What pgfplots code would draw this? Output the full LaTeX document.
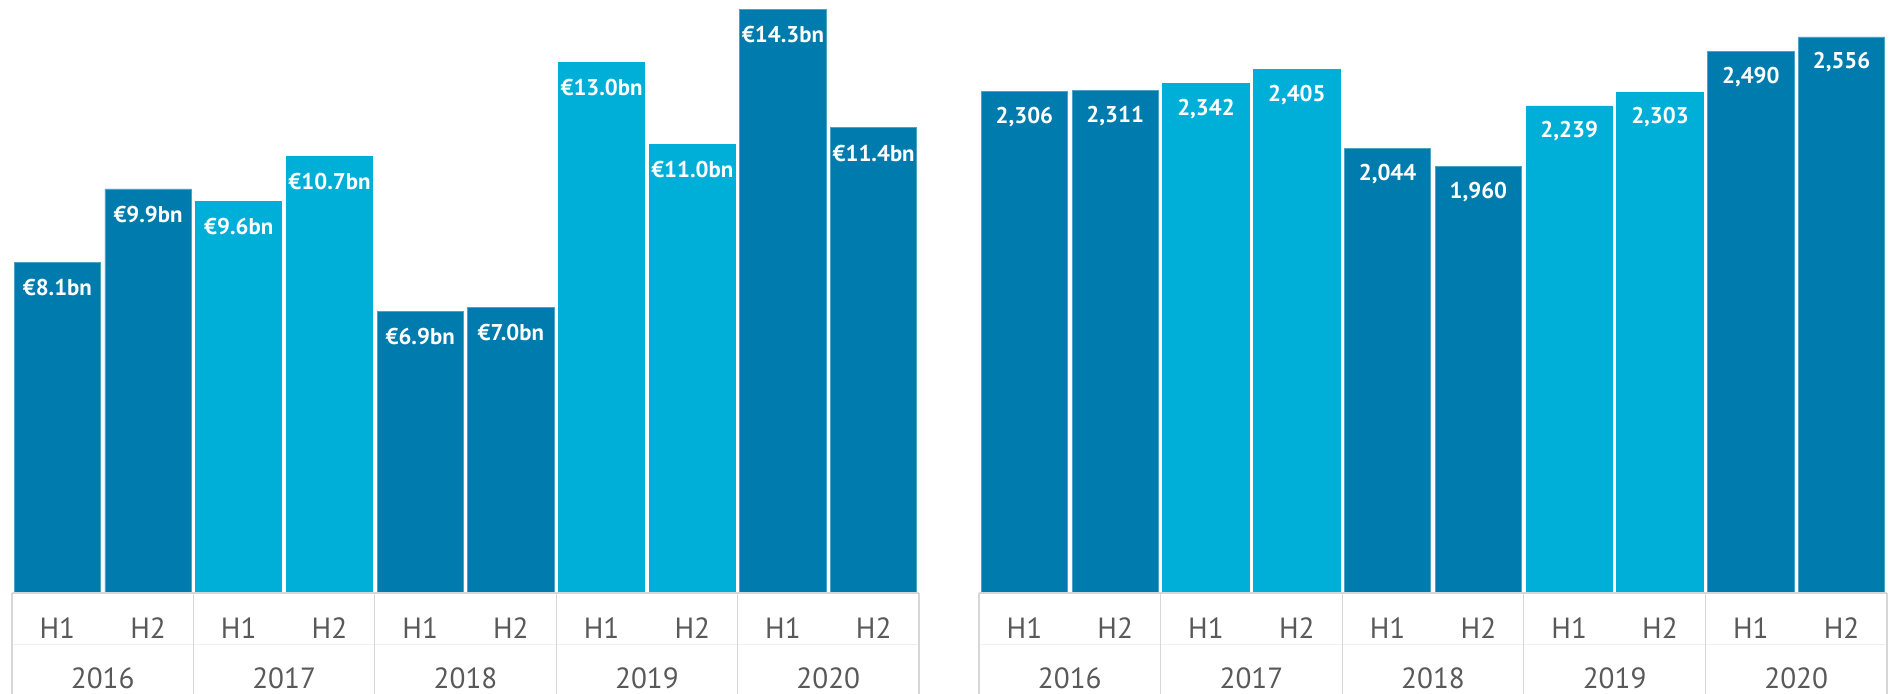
\documentclass[border=0pt]{standalone}
\usepackage{fontspec}
\setmainfont{PT Sans}
\usepackage{pgfplots}
\pgfplotsset{compat=1.18}
\definecolor{darkb}{RGB}{0,123,173}
\definecolor{lightb}{RGB}{0,175,215}
\definecolor{axgray}{RGB}{89,89,89}
\definecolor{sepgray}{RGB}{215,215,215}
\tikzset{yearlab/.style={anchor=center, inner sep=0pt, yshift=-42.5pt, text=axgray, font=\fontsize{14.6}{16}\selectfont}}
\pgfplotsset{
  halfbars/.style={
    scale only axis,
    width=453.5pt, height=296.5pt,
    anchor=south west,
    xmin=-0.5, xmax=9.5, ymin=0,
    ybar, bar width=0.95, bar shift=0pt,
    axis line style={draw=none},
    ytick=\empty,
    xtick={0,...,9},
    xticklabels={H1,H2,H1,H2,H1,H2,H1,H2,H1,H2},
    major tick length=0pt,
    xticklabel style={anchor=center, yshift=-17.5pt, font=\fontsize{14.6}{16}\selectfont, text=axgray},
    clip=false,
    point meta=explicit symbolic,
    nodes near coords,
    every node near coord/.style={anchor=center, yshift=-12.75pt, text=white, font=\fontsize{11.4}{13}\selectfont\bfseries},
  },
}
\newcommand{\sep}[1]{\draw[sepgray, line width=0.6pt] (axis cs:#1,0) -- ([yshift=-60pt]axis cs:#1,0);}
\newcommand{\framebits}{%
  \draw[sepgray, line width=0.6pt] (axis cs:-0.5,0) -- (axis cs:9.5,0);
  \draw[black!6, line width=0.5pt] ([yshift=-26pt]axis cs:-0.5,0) -- ([yshift=-26pt]axis cs:9.5,0);
  \sep{-0.5}\sep{1.5}\sep{3.5}\sep{5.5}\sep{7.5}\sep{9.5}
  \node[yearlab] at (axis cs:0.5,0) {2016};
  \node[yearlab] at (axis cs:2.5,0) {2017};
  \node[yearlab] at (axis cs:4.5,0) {2018};
  \node[yearlab] at (axis cs:6.5,0) {2019};
  \node[yearlab] at (axis cs:8.5,0) {2020};
}
\begin{document}
\begin{tikzpicture}
\path[use as bounding box] (0,0) rectangle (944.5pt,347pt);
\begin{axis}[halfbars, at={(6pt,50.5pt)}, ymax=14.53]
\addplot[fill=darkb, draw=darkb!70!white, line width=0.4pt] coordinates {
  (0,8.1) [€8.1bn] (1,9.9) [€9.9bn] (4,6.9) [€6.9bn] (5,7.0) [€7.0bn] (8,14.3) [€14.3bn] (9,11.4) [€11.4bn]};
\addplot[fill=lightb, draw=lightb, line width=0.4pt] coordinates {
  (2,9.6) [€9.6bn] (3,10.7) [€10.7bn] (6,13.0) [€13.0bn] (7,11.0) [€11.0bn]};
\framebits
\end{axis}
\begin{axis}[halfbars, at={(489.5pt,50.5pt)}, width=454pt, ymax=2726]
\addplot[fill=darkb, draw=darkb!70!white, line width=0.4pt] coordinates {
  (0,2306) [2,306] (1,2311) [2,311] (4,2044) [2,044] (5,1960) [1,960] (8,2490) [2,490] (9,2556) [2,556]};
\addplot[fill=lightb, draw=lightb, line width=0.4pt] coordinates {
  (2,2342) [2,342] (3,2405) [2,405] (6,2239) [2,239] (7,2303) [2,303]};
\framebits
\end{axis}
\end{tikzpicture}
\end{document}
